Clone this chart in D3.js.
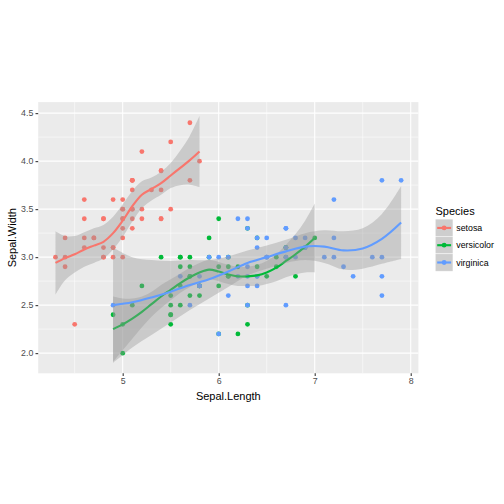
<!DOCTYPE html>
<html>
<head>
<meta charset="utf-8">
<script src="https://cdn.jsdelivr.net/npm/d3@7"></script>
<style>
  body { margin: 0; background: #fff; }
  text { font-family: "Liberation Sans", Arial, sans-serif; }
</style>
</head>
<body>
<div id="vis"></div>
<script>
// iris sepal measurements, [length, width]
const setosaPoints = [
  [5.1,3.5],[4.9,3.0],[4.7,3.2],[4.6,3.1],[5.0,3.6],[5.4,3.9],[4.6,3.4],[5.0,3.4],[4.4,2.9],[4.9,3.1],
  [5.4,3.7],[4.8,3.4],[4.8,3.0],[4.3,3.0],[5.8,4.0],[5.7,4.4],[5.4,3.9],[5.1,3.5],[5.7,3.8],[5.1,3.8],
  [5.4,3.4],[5.1,3.7],[4.6,3.6],[5.1,3.3],[4.8,3.4],[5.0,3.0],[5.0,3.4],[5.2,3.5],[5.2,3.4],[4.7,3.2],
  [4.8,3.1],[5.4,3.4],[5.2,4.1],[5.5,4.2],[4.9,3.1],[5.0,3.2],[5.5,3.5],[4.9,3.6],[4.4,3.0],[5.1,3.4],
  [5.0,3.5],[4.5,2.3],[4.4,3.2],[5.0,3.5],[5.1,3.8],[4.8,3.0],[5.1,3.8],[4.6,3.2],[5.3,3.7],[5.0,3.3]
];
const versicolorPoints = [
  [7.0,3.2],[6.4,3.2],[6.9,3.1],[5.5,2.3],[6.5,2.8],[5.7,2.8],[6.3,3.3],[4.9,2.4],[6.6,2.9],[5.2,2.7],
  [5.0,2.0],[5.9,3.0],[6.0,2.2],[6.1,2.9],[5.6,2.9],[6.7,3.1],[5.6,3.0],[5.8,2.7],[6.2,2.2],[5.6,2.5],
  [5.9,3.2],[6.1,2.8],[6.3,2.5],[6.1,2.8],[6.4,2.9],[6.6,3.0],[6.8,2.8],[6.7,3.0],[6.0,2.9],[5.7,2.6],
  [5.5,2.4],[5.5,2.4],[5.8,2.7],[6.0,2.7],[5.4,3.0],[6.0,3.4],[6.7,3.1],[6.3,2.3],[5.6,3.0],[5.5,2.5],
  [5.5,2.6],[6.1,3.0],[5.8,2.6],[5.0,2.3],[5.6,2.7],[5.7,3.0],[5.7,2.9],[6.2,2.9],[5.1,2.5],[5.7,2.8]
];
const virginicaPoints = [
  [6.3,3.3],[5.8,2.7],[7.1,3.0],[6.3,2.9],[6.5,3.0],[7.6,3.0],[4.9,2.5],[7.3,2.9],[6.7,2.5],[7.2,3.6],
  [6.5,3.2],[6.4,2.7],[6.8,3.0],[5.7,2.5],[5.8,2.8],[6.4,3.2],[6.5,3.0],[7.7,3.8],[7.7,2.6],[6.0,2.2],
  [6.9,3.2],[5.6,2.8],[7.7,2.8],[6.3,2.7],[6.7,3.3],[7.2,3.2],[6.2,2.8],[6.1,3.0],[6.4,2.8],[7.2,3.0],
  [7.4,2.8],[7.9,3.8],[6.4,2.8],[6.3,2.8],[6.1,2.6],[7.7,3.0],[6.3,3.4],[6.4,3.1],[6.0,3.0],[6.9,3.1],
  [6.7,3.1],[6.9,3.1],[5.8,2.7],[6.8,3.2],[6.7,3.3],[6.7,3.0],[6.3,2.5],[6.5,3.0],[6.2,3.4],[5.9,3.0]
];

// loess fits: x grid, fitted value, half width of the band
const setosaSmoothX = [4.3,4.4,4.5,4.6,4.7,4.8,4.9,5.0,5.1,5.2,5.3,5.4,5.5,5.6,5.7,5.8];
const setosaFit = [2.94,2.99,3.03,3.08,3.12,3.16,3.25,3.38,3.53,3.65,3.71,3.77,3.85,3.93,4.01,4.10];
const setosaSe = [0.33,0.23,0.19,0.18,0.18,0.175,0.17,0.17,0.16,0.14,0.12,0.12,0.13,0.18,0.255,0.37];

const versicolorSmoothX = [4.9,5.0,5.1,5.2,5.3,5.4,5.5,5.6,5.7,5.8,5.9,6.0,6.1,6.2,6.3,6.4,6.5,6.6,6.7,6.8,6.9,7.0];
const versicolorFit = [2.25,2.30,2.36,2.43,2.51,2.59,2.66,2.73,2.79,2.84,2.87,2.85,2.82,2.80,2.80,2.81,2.84,2.89,2.96,3.03,3.11,3.20];
const versicolorSe = [0.34,0.27,0.21,0.16,0.13,0.12,0.11,0.10,0.10,0.10,0.10,0.10,0.10,0.10,0.10,0.11,0.12,0.14,0.17,0.21,0.27,0.36];

const virginicaSmoothX = [4.9,5.1,5.3,5.5,5.7,5.9,6.1,6.3,6.5,6.7,6.9,7.1,7.3,7.5,7.7,7.9];
const virginicaFit = [2.50,2.53,2.58,2.64,2.71,2.77,2.85,2.94,3.00,3.06,3.11,3.11,3.07,3.09,3.19,3.36];
const virginicaSe = [0.60,0.47,0.39,0.32,0.26,0.20,0.16,0.13,0.12,0.12,0.14,0.17,0.20,0.21,0.26,0.38];

const speciesNames = ['setosa', 'versicolor', 'virginica'];
const speciesColors = ['#F8766D', '#00BA38', '#619CFF'];
const xTicks = [5, 6, 7, 8];
const yTicks = [2.0, 2.5, 3.0, 3.5, 4.0, 4.5];

const species = [
  { name: 'setosa', points: setosaPoints, sx: setosaSmoothX, fit: setosaFit, se: setosaSe },
  { name: 'versicolor', points: versicolorPoints, sx: versicolorSmoothX, fit: versicolorFit, se: versicolorSe },
  { name: 'virginica', points: virginicaPoints, sx: virginicaSmoothX, fit: virginicaFit, se: virginicaSe }
];

const W = 504, H = 504;
const panel = { left: 38.2, right: 418.4, top: 102.1, bottom: 373.3 };

const colorScale = d3.scaleOrdinal().domain(speciesNames).range(speciesColors);
const xScale = d3.scaleLinear().domain([4.12, 8.08]).range([panel.left, panel.right]);
const yScale = d3.scaleLinear().domain([1.79, 4.615]).range([panel.bottom, panel.top]);

const svg = d3.select('#vis').append('svg')
  .attr('width', W).attr('height', H);

svg.append('rect').attr('width', W).attr('height', H).attr('fill', '#fff');

// panel background
svg.append('rect')
  .attr('x', panel.left).attr('y', panel.top)
  .attr('width', panel.right - panel.left).attr('height', panel.bottom - panel.top)
  .attr('fill', '#EBEBEB');

// minor grid
const xMinor = [4.5, 5.5, 6.5, 7.5];
const yMinor = [2.25, 2.75, 3.25, 3.75, 4.25];
svg.append('g').selectAll('line').data(xMinor).join('line')
  .attr('x1', d => xScale(d)).attr('x2', d => xScale(d))
  .attr('y1', panel.top).attr('y2', panel.bottom)
  .attr('stroke', '#fff').attr('stroke-width', 0.53);
svg.append('g').selectAll('line').data(yMinor).join('line')
  .attr('y1', d => yScale(d)).attr('y2', d => yScale(d))
  .attr('x1', panel.left).attr('x2', panel.right)
  .attr('stroke', '#fff').attr('stroke-width', 0.53);

// major grid
svg.append('g').selectAll('line').data(xTicks).join('line')
  .attr('x1', d => xScale(d)).attr('x2', d => xScale(d))
  .attr('y1', panel.top).attr('y2', panel.bottom)
  .attr('stroke', '#fff').attr('stroke-width', 1.07);
svg.append('g').selectAll('line').data(yTicks).join('line')
  .attr('y1', d => yScale(d)).attr('y2', d => yScale(d))
  .attr('x1', panel.left).attr('x2', panel.right)
  .attr('stroke', '#fff').attr('stroke-width', 1.07);

// points
species.forEach(s => {
  svg.append('g').selectAll('circle').data(s.points).join('circle')
    .attr('cx', d => xScale(d[0]))
    .attr('cy', d => yScale(d[1]))
    .attr('r', 2.4)
    .attr('fill', colorScale(s.name));
});

// smooths: ribbon then line per group
const area = d3.area()
  .x(d => xScale(d.x))
  .y0(d => yScale(d.fit - d.se))
  .y1(d => yScale(d.fit + d.se))
  .curve(d3.curveCatmullRom);
const line = d3.line()
  .x(d => xScale(d.x))
  .y(d => yScale(d.fit))
  .curve(d3.curveCatmullRom);

species.forEach(s => {
  const rows = s.sx.map((x, i) => ({ x: x, fit: s.fit[i], se: s.se[i] }));
  svg.append('path').datum(rows)
    .attr('d', area)
    .attr('fill', '#999999').attr('fill-opacity', 0.4);
  svg.append('path').datum(rows)
    .attr('d', line)
    .attr('fill', 'none')
    .attr('stroke', colorScale(s.name))
    .attr('stroke-width', 2.13);
});

// axes
const xAxis = svg.append('g')
  .attr('transform', `translate(0,${panel.bottom})`)
  .call(d3.axisBottom(xScale).tickValues(xTicks).tickSize(2.7).tickPadding(2.2).tickFormat(d3.format('d')));
const yAxis = svg.append('g')
  .attr('transform', `translate(${panel.left},0)`)
  .call(d3.axisLeft(yScale).tickValues(yTicks).tickSize(2.7).tickPadding(2.2).tickFormat(d3.format('.1f')));

[xAxis, yAxis].forEach(a => {
  a.select('.domain').remove();
  a.selectAll('.tick line').attr('stroke', '#333333').attr('stroke-width', 1.07);
  a.selectAll('.tick text')
    .attr('fill', '#4D4D4D')
    .style('font-size', '8.8px')
    .style('font-family', '"Liberation Sans", Arial, sans-serif');
});

// axis titles
svg.append('text')
  .attr('x', (panel.left + panel.right) / 2)
  .attr('y', 400)
  .attr('text-anchor', 'middle')
  .style('font-size', '11px')
  .attr('fill', '#000')
  .text('Sepal.Length');

svg.append('text')
  .attr('transform', `translate(15.5,${(panel.top + panel.bottom) / 2}) rotate(-90)`)
  .attr('text-anchor', 'middle')
  .style('font-size', '11px')
  .attr('fill', '#000')
  .text('Sepal.Width');

// legend
const legend = svg.append('g').attr('transform', 'translate(435.5,0)');
const keySize = 17.28, keyTop = 219.3;

legend.append('text')
  .attr('x', 0).attr('y', 215)
  .style('font-size', '11px')
  .attr('fill', '#000')
  .text('Species');

const keys = legend.selectAll('.key').data(speciesNames).join('g')
  .attr('class', 'key')
  .attr('transform', (d, i) => `translate(0,${keyTop + i * keySize})`);

keys.append('rect')
  .attr('width', keySize).attr('height', keySize)
  .attr('fill', '#F2F2F2').attr('stroke', '#fff').attr('stroke-width', 1);
keys.append('rect')
  .attr('width', keySize).attr('height', keySize)
  .attr('fill', '#999999').attr('fill-opacity', 0.4);
keys.append('line')
  .attr('x1', 1.7).attr('x2', keySize - 1.7)
  .attr('y1', keySize / 2).attr('y2', keySize / 2)
  .attr('stroke', d => colorScale(d)).attr('stroke-width', 2.13);
keys.append('circle')
  .attr('cx', keySize / 2).attr('cy', keySize / 2).attr('r', 2.4)
  .attr('fill', d => colorScale(d));
keys.append('text')
  .attr('x', keySize + 3.5).attr('y', keySize / 2)
  .attr('dy', '0.35em')
  .style('font-size', '8.8px')
  .attr('fill', '#000')
  .text(d => d);
</script>
</body>
</html>
